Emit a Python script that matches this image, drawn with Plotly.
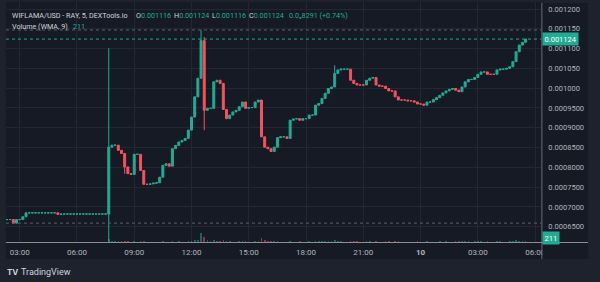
import plotly.graph_objects as go
import pandas as pd

# ---------------- data (10-minute candles) ----------------
start_time = "2024-03-09 02:20"
first_open = 0.000668
closes = [
    0.000668, 0.000668, 0.000659, 0.000668,                                  # 02:20-02:50
    0.000668, 0.000675, 0.000685, 0.000685, 0.000685, 0.000685,              # 03
    0.000685, 0.000685, 0.000685, 0.000685, 0.000685, 0.000685,              # 04
    0.000681, 0.000682, 0.000682, 0.000682, 0.000682, 0.000682,              # 05
    0.000682, 0.000682, 0.000682, 0.000682, 0.000682, 0.000682,              # 06
    0.000682, 0.000682, 0.000682, 0.000682, 0.000851, 0.000856,              # 07
    0.000856, 0.000843, 0.000835, 0.000801, 0.000784, 0.000782,              # 08
    0.000833, 0.000833, 0.000792, 0.000757, 0.000757, 0.000758,              # 09
    0.000760, 0.000761, 0.000775, 0.000805, 0.000809, 0.000803,              # 10
    0.000847, 0.000855, 0.000864, 0.000868, 0.000873, 0.000894,              # 11
    0.000927, 0.000978, 0.001025, 0.001120, 0.000944, 0.000949,              # 12
    0.000949, 0.001016, 0.001020, 0.001012, 0.000946, 0.000923,              # 13
    0.000932, 0.000940, 0.000944, 0.000953, 0.000965, 0.000949,              # 14
    0.000951, 0.000951, 0.000965, 0.000970, 0.000877, 0.000851,              # 15
    0.000847, 0.000840, 0.000851, 0.000875, 0.000877, 0.000877,              # 16
    0.000873, 0.000919, 0.000922, 0.000923, 0.000919, 0.000923,              # 17
    0.000923, 0.000932, 0.000932, 0.000957, 0.000961, 0.000974,              # 18
    0.000987, 0.000999, 0.001003, 0.001037, 0.001046, 0.001048,              # 19
    0.001048, 0.001048, 0.001020, 0.001012, 0.001008, 0.001008,              # 20
    0.001008, 0.001020, 0.001025, 0.001027, 0.001008, 0.001005,              # 21
    0.001005, 0.000999, 0.000993, 0.000993, 0.000978, 0.000970,              # 22
    0.000970, 0.000970, 0.000968, 0.000968, 0.000965, 0.000960,              # 23
    0.000960, 0.000957, 0.000965, 0.000965, 0.000971, 0.000976,              # 00 (day 10)
    0.000982, 0.000988, 0.000993, 0.000997, 0.000999, 0.000995,              # 01
    0.000991, 0.001003, 0.001016, 0.001022, 0.001022, 0.001027,              # 02
    0.001035, 0.001041, 0.001041, 0.001035, 0.001035, 0.001035,              # 03
    0.001046, 0.001048, 0.001048, 0.001050, 0.001054, 0.001067,              # 04
    0.001092, 0.001109, 0.001116, 0.001124,                                  # 05:00-05:30
]
# candles whose wicks stick out beyond their bodies: time -> (high, low)
wicks = {
    "2024-03-09 07:40": (0.001101, 0.000600),
    "2024-03-09 08:30": (0.000835, 0.000784),
    "2024-03-09 12:30": (0.001147, 0.001025),
    "2024-03-09 12:40": (0.001129, 0.000894),
    "2024-03-09 19:30": (0.001058, 0.001003),
}
volumes = [
    20, 15, 30, 20,
    10, 40, 60, 0, 0, 0,
    0, 0, 0, 0, 0, 0,
    30, 10, 0, 0, 0, 0,
    0, 0, 0, 0, 0, 0,
    0, 0, 0, 0, 900, 300,
    250, 350, 200, 400, 300, 150,
    350, 150, 300, 400, 100, 80,
    60, 50, 150, 250, 120, 150,
    300, 150, 200, 100, 150, 250,
    400, 500, 700, 2600, 1500, 500,
    300, 700, 300, 400, 600, 450,
    200, 150, 150, 200, 250, 300,
    100, 150, 200, 250, 1100, 500,
    300, 200, 250, 300, 100, 100,
    150, 400, 150, 100, 200, 100,
    150, 200, 150, 300, 200, 250,
    300, 300, 200, 500, 300, 200,
    100, 100, 400, 250, 200, 100,
    100, 250, 200, 150, 300, 150,
    100, 200, 200, 100, 300, 250,
    100, 100, 150, 100, 150, 200,
    100, 150, 200, 100, 150, 150,
    200, 150, 200, 150, 150, 200,
    250, 300, 300, 250, 100, 200,
    300, 250, 100, 200, 100, 100,
    300, 200, 100, 150, 200, 350,
    500, 400, 300, 211,
]
y_tick_vals = [0.00065, 0.0007, 0.00075, 0.0008, 0.00085, 0.0009, 0.00095,
               0.001, 0.00105, 0.0011, 0.00115, 0.0012]
y_tick_text = ["0.0006500", "0.0007000", "0.0007500", "0.0008000", "0.0008500",
               "0.0009000", "0.0009500", "0.001000", "0.001050", "0.001100",
               "0.001150", "0.001200"]
x_tick_vals = ["2024-03-09 03:00", "2024-03-09 06:00", "2024-03-09 09:00",
               "2024-03-09 12:00", "2024-03-09 15:00", "2024-03-09 18:00",
               "2024-03-09 21:00", "2024-03-10 00:00", "2024-03-10 03:00",
               "2024-03-10 06:00"]
x_tick_text = ["03:00", "06:00", "09:00", "12:00", "15:00", "18:00", "21:00",
               "<b>10</b>", "03:00", "06:00"]
header_symbol = "WIFLAMA/USD - RAY, 5, DEXTools.io"
header_ohlc = [("O", "0.001116"), ("H", "0.001124"), ("L", "0.001116"), ("C", "0.001124")]
header_change = "0.0₅8291 (+0.74%)"
volume_title = "Volume (WMA, 9)"
volume_wma = "211"
last_price = closes[-1]

# ---------------- derived OHLC ----------------
times = list(pd.date_range(start_time, periods=len(closes), freq="10min"))
opens = [first_open] + closes[:-1]
highs, lows = [], []
for t, o, c in zip(times, opens, closes):
    key = t.strftime("%Y-%m-%d %H:%M")
    if key in wicks:
        highs.append(wicks[key][0]); lows.append(wicks[key][1])
    else:
        highs.append(max(o, c)); lows.append(min(o, c))

# direction of each candle; flat candles keep the previous direction
up = []
prev = True
for o, c in zip(opens, closes):
    if c > o:
        prev = True
    elif c < o:
        prev = False
    up.append(prev)

GREEN = "#22ab94"
RED = "#f7525f"
PANEL = "#161a25"
OUTER = "#1e222d"
GRID = "#232734"
TXT = "#b2b5be"
W, H = 600, 282

def px_x(p): return p / W
def px_y(p): return 1 - p / H

vol_colors = ["rgba(34,171,148,0.5)" if u else "rgba(247,82,95,0.5)" for u in up]

fig = go.Figure()
fig.add_trace(go.Bar(x=times, y=volumes, marker_color=vol_colors,
                     marker_line_width=0, yaxis="y2", width=10 * 60 * 1000 * 0.5,
                     hoverinfo="skip", showlegend=False))

for flag, col in [(True, GREEN), (False, RED)]:
    idx = [i for i, u in enumerate(up) if u == flag]
    fig.add_trace(go.Candlestick(
        x=[times[i] for i in idx], open=[opens[i] for i in idx],
        high=[highs[i] for i in idx], low=[lows[i] for i in idx],
        close=[closes[i] for i in idx],
        increasing=dict(line=dict(color=col, width=1), fillcolor=col),
        decreasing=dict(line=dict(color=col, width=1), fillcolor=col),
        whiskerwidth=0, showlegend=False))

x_left = pd.Timestamp("2024-03-09 03:00") - pd.Timedelta(hours=(19.8 - 6) / 19.22)
x_right = pd.Timestamp("2024-03-09 03:00") + pd.Timedelta(hours=(545 - 19.8) / 19.22)

plot_bottom, plot_top = 242, 2
y_lo = 0.0012 - (plot_bottom - 9) / 19.79 * 0.00005
y_hi = 0.0012 + (9 - plot_top) / 19.79 * 0.00005

fig.update_layout(
    width=W, height=H, margin=dict(l=0, r=0, t=0, b=0),
    paper_bgcolor=OUTER, plot_bgcolor=PANEL,
    font=dict(family="Roboto, Inter, sans-serif", size=8, color=TXT),
    showlegend=False, boxgap=0.12, boxmode="overlay", bargap=0,
    xaxis=dict(type="date", domain=[px_x(6), px_x(545)], range=[x_left, x_right],
               tickvals=x_tick_vals, ticktext=x_tick_text, showgrid=True,
               gridcolor=GRID, gridwidth=1, zeroline=False, showline=False,
               ticks="", ticklabelstandoff=4, rangeslider=dict(visible=False),
               tickfont=dict(size=8, color=TXT), fixedrange=True),
    yaxis=dict(domain=[px_y(plot_bottom), px_y(plot_top)], range=[y_lo, y_hi],
               side="right", tickvals=y_tick_vals, ticktext=y_tick_text,
               showgrid=True, gridcolor=GRID, gridwidth=1, zeroline=False,
               showline=False, ticks="", ticklabelstandoff=6,
               tickfont=dict(size=7.5, color=TXT)),
    yaxis2=dict(overlaying="y", range=[0, 240 * 300], visible=False),
)

# panel background (the chart pane) and separators
fig.add_shape(type="rect", xref="paper", yref="paper", x0=px_x(6), x1=px_x(592),
              y0=px_y(259), y1=px_y(3), fillcolor=PANEL, line_width=0, layer="below")
# the price-scale column hides the part of the last time label that runs under it
fig.add_shape(type="rect", xref="paper", yref="paper", x0=px_x(546), x1=px_x(592),
              y0=px_y(259), y1=px_y(243.2), fillcolor=PANEL, line_width=0, layer="above")
fig.add_shape(type="line", xref="paper", yref="paper", x0=px_x(545.5), x1=px_x(545.5),
              y0=px_y(259), y1=px_y(3), line=dict(color="#6a6d78", width=1))
fig.add_shape(type="line", xref="paper", yref="paper", x0=px_x(6), x1=px_x(592),
              y0=px_y(242.5), y1=px_y(242.5), line=dict(color="#8a8d96", width=1))

# high / low / last price dotted lines
for val, col in [(max(highs), "#5d606b"), (min(closes), "#5d606b"), (last_price, GREEN)]:
    fig.add_shape(type="line", xref="paper", yref="y", x0=px_x(6), x1=px_x(545),
                  y0=val, y1=val, line=dict(color=col, width=1, dash="dot"))

# header legend
HDR = "#d1d4dc"
def header(text, x, y, color=HDR):
    fig.add_annotation(xref="paper", yref="paper", x=px_x(x), y=px_y(y), text=text,
                       showarrow=False, xanchor="left", yanchor="middle",
                       font=dict(size=7.2, color=color))

g = lambda s: f'<span style="color:{GREEN}">{s}</span>'
header(header_symbol, 10, 15)
for (k, v), xpos in zip(header_ohlc, [135, 173, 211, 249]):
    header(k + g(v), xpos, 15)
header(header_change, 289, 15, GREEN)
header(volume_title, 10, 26.5)
header(volume_wma, 71, 26.5, GREEN)

# price and volume labels on the right scale
fig.add_annotation(xref="paper", yref="y", x=px_x(546), y=last_price,
                   text=f"{last_price:.6f}", showarrow=False, xanchor="left",
                   yanchor="middle", bgcolor=GREEN, borderpad=1.5,
                   font=dict(size=7.5, color="#ffffff"))
fig.add_annotation(xref="paper", yref="paper", x=px_x(546), y=px_y(237.5),
                   text=volume_wma, showarrow=False, xanchor="left",
                   yanchor="middle", bgcolor=GREEN, borderpad=1.5,
                   font=dict(size=7.5, color="#ffffff"))

# TradingView footer
fig.add_annotation(xref="paper", yref="paper", x=px_x(5), y=px_y(271.5),
                   text="<b>TV</b>", showarrow=False, xanchor="left", yanchor="middle",
                   font=dict(size=8, color=HDR, family="Inter, sans-serif"))
fig.add_annotation(xref="paper", yref="paper", x=px_x(19), y=px_y(271.5),
                   text="TradingView", showarrow=False, xanchor="left", yanchor="middle",
                   font=dict(size=9, color=HDR))

fig.write_html("out.html")
